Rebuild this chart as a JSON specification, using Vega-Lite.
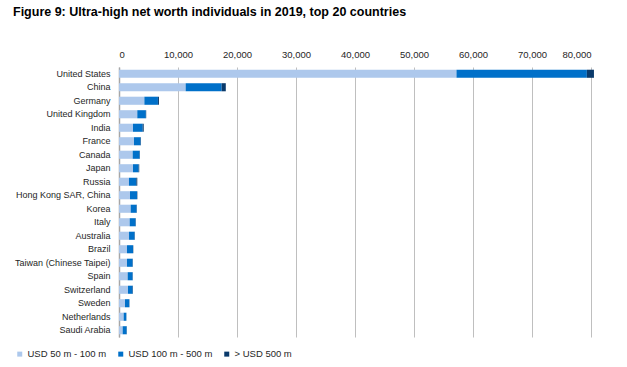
{
  "$schema": "https://vega.github.io/schema/vega-lite/v6.json",
  "width": 472,
  "height": 270,
  "autosize": {"type": "none"},
  "padding": {"left": 119, "top": 67, "right": 36, "bottom": 30},
  "background": "white",
  "title": {
    "text": "Figure 9: Ultra-high net worth individuals in 2019, top 20 countries",
    "anchor": "start",
    "frame": "group",
    "dx": -106,
    "offset": 31,
    "font": "Liberation Sans",
    "fontSize": 12.5,
    "fontWeight": "bold",
    "color": "#000000"
  },
  "config": {
    "view": {"stroke": null},
    "font": "Liberation Sans"
  },
  "data": {
    "values": [
      {"country": "United States", "band": "USD 50 m - 100 m", "count": 57200},
      {"country": "United States", "band": "USD 100 m - 500 m", "count": 22100},
      {"country": "United States", "band": "> USD 500 m", "count": 1200},
      {"country": "China", "band": "USD 50 m - 100 m", "count": 11300},
      {"country": "China", "band": "USD 100 m - 500 m", "count": 6100},
      {"country": "China", "band": "> USD 500 m", "count": 700},
      {"country": "Germany", "band": "USD 50 m - 100 m", "count": 4300},
      {"country": "Germany", "band": "USD 100 m - 500 m", "count": 2300},
      {"country": "Germany", "band": "> USD 500 m", "count": 170},
      {"country": "United Kingdom", "band": "USD 50 m - 100 m", "count": 3100},
      {"country": "United Kingdom", "band": "USD 100 m - 500 m", "count": 1450},
      {"country": "United Kingdom", "band": "> USD 500 m", "count": 60},
      {"country": "India", "band": "USD 50 m - 100 m", "count": 2370},
      {"country": "India", "band": "USD 100 m - 500 m", "count": 1650},
      {"country": "India", "band": "> USD 500 m", "count": 170},
      {"country": "France", "band": "USD 50 m - 100 m", "count": 2540},
      {"country": "France", "band": "USD 100 m - 500 m", "count": 1130},
      {"country": "France", "band": "> USD 500 m", "count": 60},
      {"country": "Canada", "band": "USD 50 m - 100 m", "count": 2320},
      {"country": "Canada", "band": "USD 100 m - 500 m", "count": 1180},
      {"country": "Canada", "band": "> USD 500 m", "count": 50},
      {"country": "Japan", "band": "USD 50 m - 100 m", "count": 2370},
      {"country": "Japan", "band": "USD 100 m - 500 m", "count": 960},
      {"country": "Japan", "band": "> USD 500 m", "count": 100},
      {"country": "Russia", "band": "USD 50 m - 100 m", "count": 1690},
      {"country": "Russia", "band": "USD 100 m - 500 m", "count": 1250},
      {"country": "Russia", "band": "> USD 500 m", "count": 160},
      {"country": "Hong Kong SAR, China", "band": "USD 50 m - 100 m", "count": 1860},
      {"country": "Hong Kong SAR, China", "band": "USD 100 m - 500 m", "count": 1190},
      {"country": "Hong Kong SAR, China", "band": "> USD 500 m", "count": 60},
      {"country": "Korea", "band": "USD 50 m - 100 m", "count": 1980},
      {"country": "Korea", "band": "USD 100 m - 500 m", "count": 1010},
      {"country": "Korea", "band": "> USD 500 m", "count": 40},
      {"country": "Italy", "band": "USD 50 m - 100 m", "count": 1810},
      {"country": "Italy", "band": "USD 100 m - 500 m", "count": 1010},
      {"country": "Italy", "band": "> USD 500 m", "count": 40},
      {"country": "Australia", "band": "USD 50 m - 100 m", "count": 1700},
      {"country": "Australia", "band": "USD 100 m - 500 m", "count": 950},
      {"country": "Australia", "band": "> USD 500 m", "count": 40},
      {"country": "Brazil", "band": "USD 50 m - 100 m", "count": 1360},
      {"country": "Brazil", "band": "USD 100 m - 500 m", "count": 1010},
      {"country": "Brazil", "band": "> USD 500 m", "count": 50},
      {"country": "Taiwan (Chinese Taipei)", "band": "USD 50 m - 100 m", "count": 1360},
      {"country": "Taiwan (Chinese Taipei)", "band": "USD 100 m - 500 m", "count": 950},
      {"country": "Taiwan (Chinese Taipei)", "band": "> USD 500 m", "count": 40},
      {"country": "Spain", "band": "USD 50 m - 100 m", "count": 1470},
      {"country": "Spain", "band": "USD 100 m - 500 m", "count": 840},
      {"country": "Spain", "band": "> USD 500 m", "count": 30},
      {"country": "Switzerland", "band": "USD 50 m - 100 m", "count": 1530},
      {"country": "Switzerland", "band": "USD 100 m - 500 m", "count": 780},
      {"country": "Switzerland", "band": "> USD 500 m", "count": 60},
      {"country": "Sweden", "band": "USD 50 m - 100 m", "count": 1020},
      {"country": "Sweden", "band": "USD 100 m - 500 m", "count": 730},
      {"country": "Sweden", "band": "> USD 500 m", "count": 30},
      {"country": "Netherlands", "band": "USD 50 m - 100 m", "count": 790},
      {"country": "Netherlands", "band": "USD 100 m - 500 m", "count": 450},
      {"country": "Netherlands", "band": "> USD 500 m", "count": 20},
      {"country": "Saudi Arabia", "band": "USD 50 m - 100 m", "count": 620},
      {"country": "Saudi Arabia", "band": "USD 100 m - 500 m", "count": 680},
      {"country": "Saudi Arabia", "band": "> USD 500 m", "count": 30}
    ]
  },
  "mark": {"type": "bar"},
  "encoding": {
    "y": {
      "field": "country",
      "type": "nominal",
      "sort": null,
      "scale": {"paddingInner": 0.4, "paddingOuter": 0.2},
      "axis": {
        "title": null,
        "ticks": false,
        "labelFont": "Liberation Sans",
        "labelFontSize": 9,
        "labelColor": "#262626",
        "labelPadding": 9,
        "domainColor": "#a6a6a6",
        "domainWidth": 1.5,
        "grid": false
      }
    },
    "x": {
      "field": "count",
      "type": "quantitative",
      "stack": "zero",
      "scale": {"domain": [0, 80000], "nice": false},
      "axis": {
        "orient": "top",
        "title": null,
        "values": [0, 10000, 20000, 30000, 40000, 50000, 60000, 70000, 80000],
        "format": ",d",
        "domain": false,
        "ticks": false,
        "labelFont": "Liberation Sans",
        "labelFontSize": 9.5,
        "labelColor": "#262626",
        "labelPadding": 8,
        "grid": true,
        "gridColor": "#bfbfbf",
        "gridWidth": 1
      }
    },
    "order": {"field": "band", "type": "nominal", "sort": "descending"},
    "color": {
      "field": "band",
      "type": "nominal",
      "sort": ["USD 50 m - 100 m", "USD 100 m - 500 m", "> USD 500 m"],
      "scale": {
        "domain": ["USD 50 m - 100 m", "USD 100 m - 500 m", "> USD 500 m"],
        "range": ["#adc8ec", "#0070c9", "#0a3a6b"]
      },
      "legend": {
        "title": null,
        "orient": "none",
        "direction": "horizontal",
        "legendX": -104,
        "legendY": 282,
        "symbolType": "square",
        "symbolSize": 25,
        "symbolStrokeWidth": 0,
        "labelFont": "Liberation Sans",
        "labelFontSize": 9.5,
        "labelColor": "#262626",
        "labelOffset": 3,
        "columnPadding": 9,
        "padding": 0
      }
    }
  }
}
